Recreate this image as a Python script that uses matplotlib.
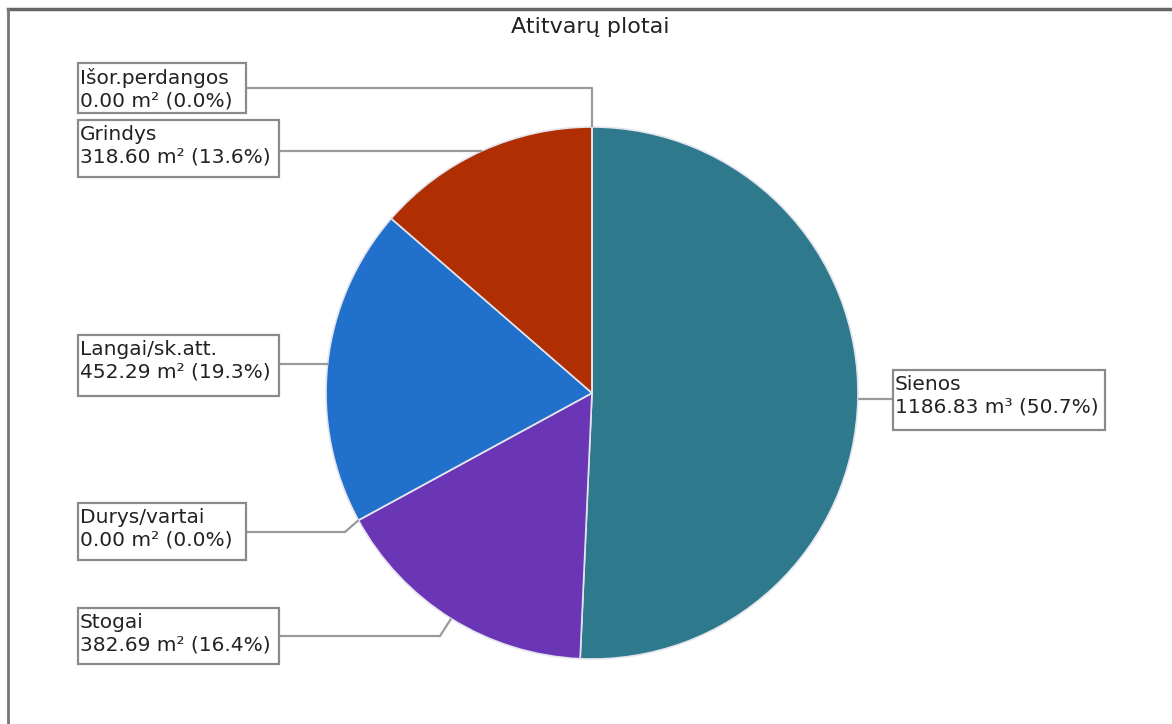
import numpy as np
import matplotlib
matplotlib.use('Agg')
import matplotlib.pyplot as plt
from matplotlib.patches import Rectangle

W, H = 1172, 724

names = ['Sienos', 'Stogai', 'Durys/vartai', 'Langai/sk.att.', 'Grindys', 'Išor.perdangos']
areas = [1186.83, 382.69, 0.00, 452.29, 318.60, 0.00]
units = ['m³', 'm²', 'm²', 'm²', 'm²', 'm²']
colors = ['#2e7a8c', '#6a36b6', '#8a8a8a', '#2171cc', '#b02f02', '#8a8a8a']

# label boxes in screen pixels: x0, y0 (top), width, height, line y, elbow x
boxes = {
    'Sienos':         (893, 370, 212, 60, None, None),
    'Stogai':         (78, 608, 201, 56, 636, 440),
    'Durys/vartai':   (78, 503, 168, 57, 532, 345),
    'Langai/sk.att.': (78, 335, 201, 61, None, None),
    'Grindys':        (78, 120, 201, 57, None, None),
    'Išor.perdangos': (78, 63, 168, 50, 88, None),
}

cx, cy, r = 592, 393, 266

def fy(y):
    return H - y

fig = plt.figure(figsize=(W / 100, H / 100), dpi=100)
ax = fig.add_axes([0, 0, 1, 1])

wedges, _ = ax.pie(areas, colors=colors, startangle=90, counterclock=False,
                   radius=r, center=(cx, fy(cy)), normalize=True,
                   wedgeprops=dict(edgecolor='#e4e4ee', linewidth=1.2))
ax.set_xlim(0, W)
ax.set_ylim(0, H)
ax.set_aspect('equal')
ax.axis('off')

total = sum(areas)
for w, name, val, unit in zip(wedges, names, areas, units):
    mid = np.deg2rad((w.theta1 + w.theta2) / 2)
    ax_x = cx + r * np.cos(mid)
    ax_y = cy - r * np.sin(mid)
    x0, y0, bw, bh, ly, ex = boxes[name]
    if ly is None:
        ly = ax_y
    if ex is None:
        ex = ax_x
    edge_x = x0 if x0 > cx else x0 + bw
    ax.plot([ax_x, ex, edge_x], [fy(ax_y), fy(ly), fy(ly)],
            color='#9a9a9a', lw=1.6, solid_capstyle='butt', zorder=3)
    ax.add_patch(Rectangle((x0, fy(y0 + bh)), bw, bh, facecolor='white',
                           edgecolor='#8a8a8a', lw=1.6, zorder=4))
    pct = 100 * val / total
    txt = '%s\n%.2f %s (%.1f%%)' % (name, val, unit, pct)
    ax.text(x0 + 2, fy(y0 + 5), txt, ha='left', va='top', fontsize=14.5,
            color='#222222', linespacing=1.25, zorder=5)

ax.text(590, fy(27), 'Atitvarų plotai', ha='center', va='center',
        fontsize=16, color='#222222')

# window frame
ax.plot([8, W], [fy(9), fy(9)], color='#666666', lw=2.5)
ax.plot([8, 8], [fy(9), 0], color='#777777', lw=2)

fig.savefig('out.png', dpi=100)
